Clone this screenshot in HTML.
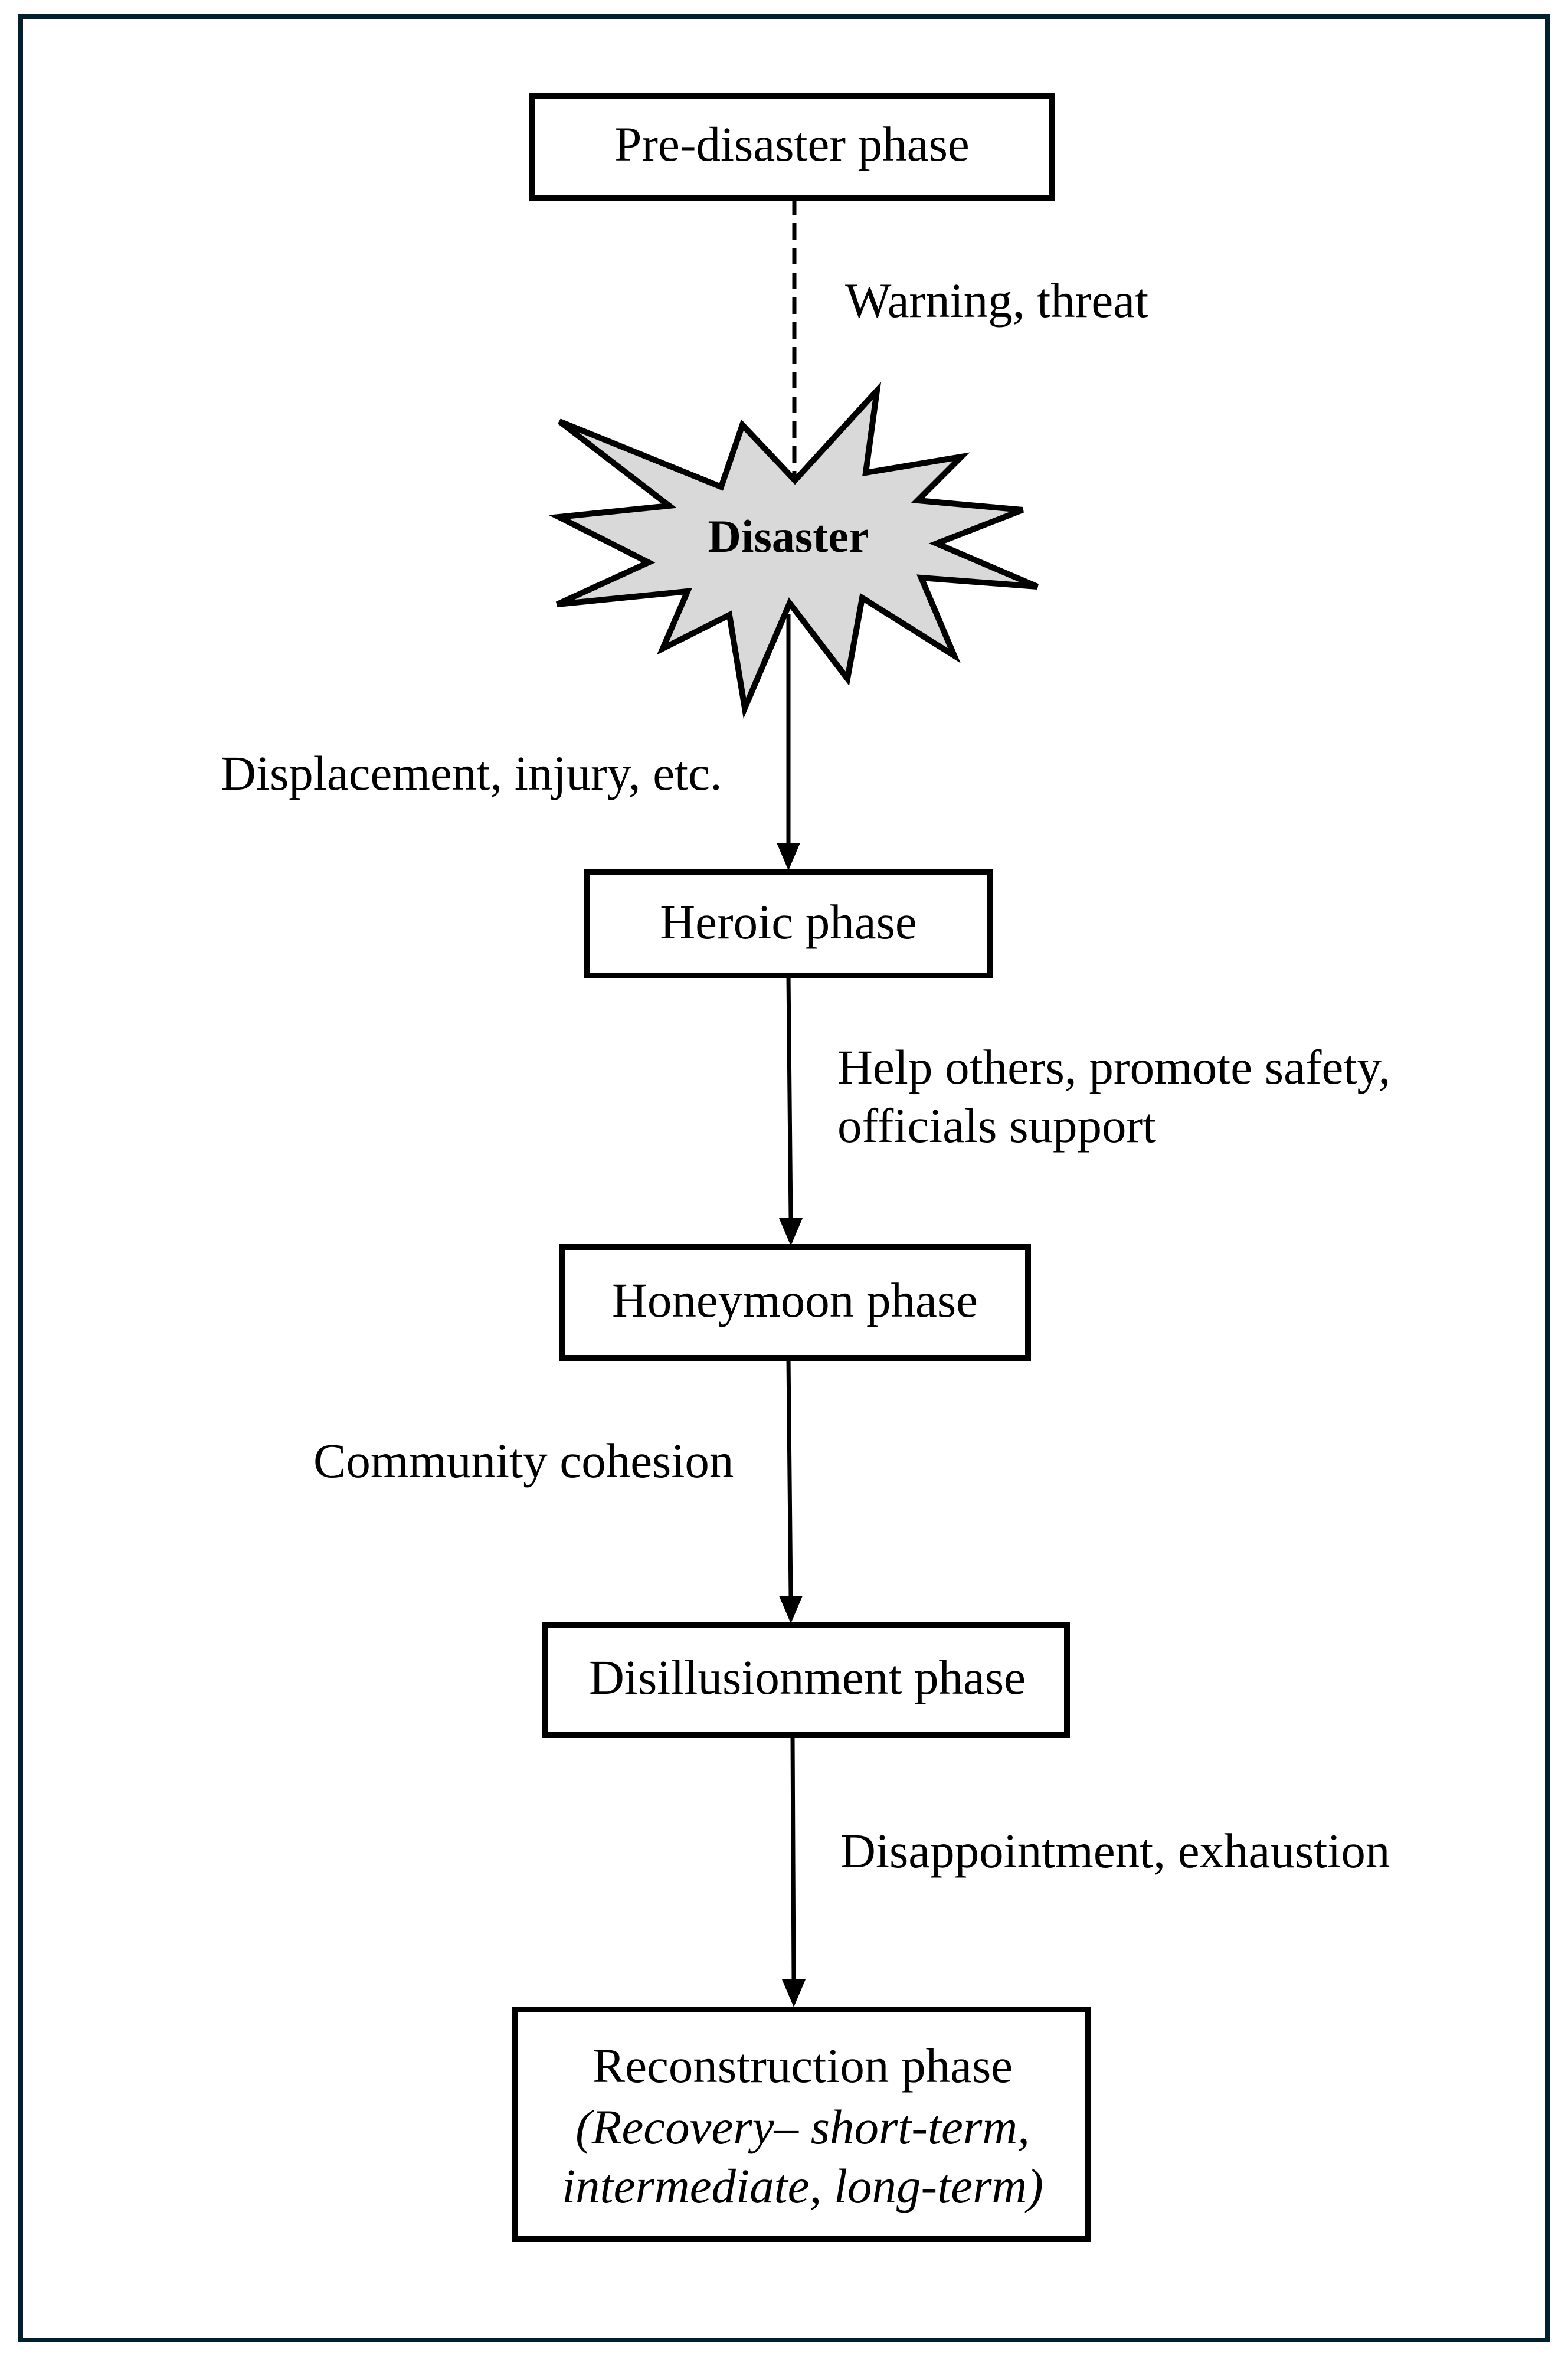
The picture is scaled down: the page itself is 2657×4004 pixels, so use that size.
<!DOCTYPE html>
<html><head><meta charset="utf-8"><style>
html,body{margin:0;padding:0;background:#fff}
svg{display:block}
text{font-family:"Liberation Serif",serif;font-size:83px;fill:#000}
</style></head><body>
<svg width="2657" height="4004" viewBox="0 0 2657 4004" xmlns="http://www.w3.org/2000/svg">
<rect x="0" y="0" width="2657" height="4004" fill="#fff"/>
<rect x="35" y="28" width="2587" height="3937" fill="none" stroke="#00202f" stroke-width="8"/>

<rect x="902" y="163" width="880" height="173" fill="#fff" stroke="#000" stroke-width="10"/>
<text x="1342" y="272" text-anchor="middle">Pre-disaster phase</text>
<line x1="1346" y1="336" x2="1346" y2="806" stroke="#000" stroke-width="7" stroke-dasharray="28,14"/>
<text x="1432" y="537">Warning, threat</text>

<polygon points="948,714 1222,825 1258,720 1347,814 1486,662 1467,801 1629,774 1555,848 1733,864 1587,921 1758,994 1561,979 1617,1111 1461,1013 1436,1150 1338,1022 1262,1200 1236,1042 1123,1099 1165,1002 944,1024 1099,953 947,876 1134,857" fill="#d9d9d9" stroke="#000" stroke-width="10" stroke-linejoin="miter"/>
<text x="1336" y="935" text-anchor="middle" font-weight="bold" style="font-size:78px">Disaster</text>

<line x1="1336" y1="1040" x2="1336" y2="1430" stroke="#000" stroke-width="7"/>
<polygon points="1316,1428 1356,1428 1336,1475" fill="#000"/>
<text x="374" y="1338">Displacement, injury, etc.</text>

<rect x="994" y="1477" width="684" height="176" fill="#fff" stroke="#000" stroke-width="10"/>
<text x="1336" y="1590" text-anchor="middle">Heroic phase</text>

<line x1="1336" y1="1653" x2="1340" y2="2066" stroke="#000" stroke-width="7"/>
<polygon points="1320,2064 1360,2064 1340,2111" fill="#000"/>
<text x="1419" y="1836">Help others, promote safety,</text>
<text x="1419" y="1935">officials support</text>

<rect x="953" y="2113" width="789" height="188" fill="#fff" stroke="#000" stroke-width="10"/>
<text x="1347" y="2231" text-anchor="middle">Honeymoon phase</text>

<line x1="1336" y1="2301" x2="1340" y2="2706" stroke="#000" stroke-width="7"/>
<polygon points="1320,2704 1360,2704 1340,2751" fill="#000"/>
<text x="531" y="2503">Community cohesion</text>

<rect x="923" y="2753" width="885" height="187" fill="#fff" stroke="#000" stroke-width="10"/>
<text x="1368" y="2870" text-anchor="middle">Disillusionment phase</text>

<line x1="1343" y1="2940" x2="1345" y2="3356" stroke="#000" stroke-width="7"/>
<polygon points="1325,3354 1365,3354 1345,3401" fill="#000"/>
<text x="1424" y="3164">Disappointment, exhaustion</text>

<rect x="872" y="3405" width="972" height="389" fill="#fff" stroke="#000" stroke-width="10"/>
<text x="1360" y="3528" text-anchor="middle">Reconstruction phase</text>
<text x="1360" y="3632" text-anchor="middle" font-style="italic">(Recovery– short-term,</text>
<text x="1360" y="3732" text-anchor="middle" font-style="italic">intermediate, long-term)</text>
</svg>
</body></html>
